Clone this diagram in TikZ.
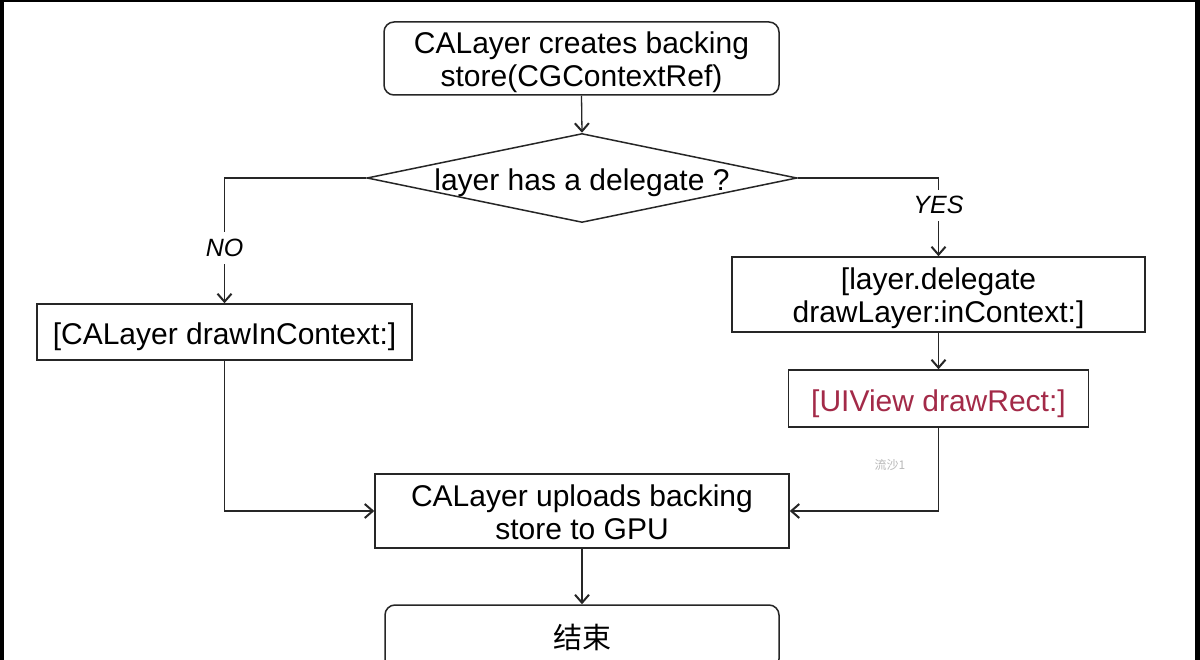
\documentclass[tikz,border=0pt]{standalone}
\usepackage{fontspec}
\setmainfont{Liberation Sans}
\newfontfamily\cjk{Noto Sans CJK SC}
\usetikzlibrary{shapes.geometric,arrows.meta}
\definecolor{methodred}{RGB}{163,42,72}
\definecolor{wmgray}{RGB}{185,185,185}
\begin{document}
\begin{tikzpicture}[x=1pt,y=-1pt,
  box/.style={draw=black!85, line width=1.5pt, inner sep=0pt, align=center,
    font=\fontsize{30}{33}\selectfont},
  oneline/.style={text height=25pt, text depth=0pt},
  twoline/.style={text height=57pt, text depth=0pt},
  rbox/.style={box, rounded corners=10pt},
  dec/.style={draw=black!85, line width=1.5pt, diamond, inner sep=0pt},
  flow/.style={draw=black!85, line width=1.3pt, -{Straight Barb[length=8pt,width=14pt,line width=2pt]}},
  lbl/.style={fill=white, font=\fontsize{25}{28}\selectfont\itshape, inner sep=7pt},
  edgebar/.style={fill=black}
]
\useasboundingbox (0,0) rectangle (1200,660);
\clip (0,0) rectangle (1200,660);
\fill[white] (0,0) rectangle (1200,660);
% screen edges
\fill[edgebar] (0,0) rectangle (4,660);
\fill[edgebar] (1195,0) rectangle (1200,660);
\fill[edgebar] (0,0) rectangle (1200,2);

\node[rbox, twoline, minimum width=395pt, minimum height=73pt] (top) at (581.5,58.5)
  {CALayer creates backing\\store(CGContextRef)};
\node[dec, minimum width=430pt, minimum height=89pt,
  label={[font=\fontsize{30}{33}\selectfont, text height=25pt, text depth=0pt, inner sep=0pt]center:layer has a delegate ?}] (ask) at (582,178) {};
\node[box, oneline, minimum width=375pt, minimum height=56pt] (draw) at (224.5,332)
  {[CALayer drawInContext:]};
\node[box, twoline, minimum width=413pt, minimum height=75pt] (deleg) at (938.5,294.5)
  {[layer.delegate\\drawLayer:inContext:]};
\node[box, oneline, minimum width=300pt, minimum height=57pt, text=methodred] (rect) at (938.5,398.5)
  {[UIView drawRect:]};
\node[box, twoline, minimum width=414pt, minimum height=74pt] (upload) at (582,511)
  {CALayer uploads backing\\store to GPU};
\node[rbox, minimum width=394pt, minimum height=64pt, font=\cjk\fontsize{29}{33}\selectfont] (end) at (582,637)
  {结束};
\node[text=wmgray, font=\cjk\fontsize{12}{14}\selectfont] (wm) at (890,465) {流沙1};

\draw[flow] (top.south) -- (ask.north);
\draw[flow] (ask.west) -| node[lbl, pos=0.78] {NO} (draw.north);
\draw[flow] (ask.east) -| node[lbl, pos=0.675] {YES} (deleg.north);
\draw[flow] (deleg.south) -- (rect.north);
\draw[flow] (draw.south) |- (upload.west);
\draw[flow] (rect.south) |- (upload.east);
\draw[flow] (upload.south) -- (end.north);
\end{tikzpicture}
\end{document}
